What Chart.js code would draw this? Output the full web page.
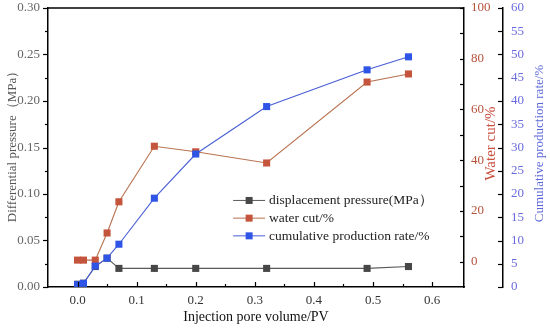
<!DOCTYPE html>
<html><head><meta charset="utf-8">
<script src="https://cdn.jsdelivr.net/npm/chart.js@4.4.0/dist/chart.umd.min.js"></script>
<style>html,body{margin:0;padding:0;background:#fff}</style>
</head><body>
<canvas id="c" width="550" height="330" style="width:550px;height:330px;display:block"></canvas>
<script>
const injectionPV = [0, 0.01, 0.03, 0.05, 0.07, 0.13, 0.20, 0.32, 0.49, 0.56];
const displacementPressure = [0.003, 0.004, 0.022, 0.031, 0.020, 0.020, 0.020, 0.020, 0.020, 0.022];
const waterCut = [0.6, 0.6, 0.6, 11.3, 23.6, 45.5, 43.3, 38.9, 70.8, 74.0];
const cumulativeRate = [0.5, 0.8, 4.5, 6.2, 9.2, 19.1, 28.6, 38.8, 46.7, 49.5];
const xTicks = [0, 0.1, 0.2, 0.3, 0.4, 0.5, 0.6];
const pressureTicks = [0, 0.05, 0.10, 0.15, 0.20, 0.25, 0.30];
const waterCutTicks = [0, 20, 40, 60, 80, 100];
const cumulativeTicks = [0, 5, 10, 15, 20, 25, 30, 35, 40, 45, 50, 55, 60];
const seriesNames = ['displacement pressure(MPa\uFF09', 'water cut/%', 'cumulative production rate/%'];
const axisTitles = {
  y: 'Differential pressure\uFF08MPa\uFF09',
  y2: 'Water cut/%',
  y3: 'Cumulative production rate/%',
  x: 'Injection pore volume/PV'
};

const SERIF = '"Liberation Serif", "Times New Roman", serif';
const colors = {
  black: { line: '#5a5a5a', point: '#474747' },
  red: { line: '#b8714f', point: '#c4553c' },
  blue: { line: '#4a5ed6', point: '#2f55e6' }
};

function pts(ys) { return injectionPV.map((x, i) => ({ x: x, y: ys[i] })); }
function fixTicks(arr) { return s => { s.ticks = arr.map(v => ({ value: v })); }; }
function fixW(w) { return s => { s.width = w; s.paddingTop = 0; s.paddingBottom = 0; }; }

const decoPlugin = {
  id: 'deco',
  afterDraw(chart) {
    const ctx = chart.ctx;
    const ca = chart.chartArea;
    const sx = chart.scales.x, sy = chart.scales.y, sy2 = chart.scales.y2, sy3 = chart.scales.y3;
    ctx.save();
    ctx.strokeStyle = '#000';
    ctx.lineWidth = 1.5;
    ctx.beginPath();
    ctx.moveTo(ca.left, ca.top); ctx.lineTo(ca.right, ca.top);
    ctx.stroke();
    ctx.lineWidth = 1.2;
    function tickV(scale, values, x, len) {
      values.forEach(v => {
        const y = Math.round(scale.getPixelForValue(v)) + 0.5;
        ctx.beginPath(); ctx.moveTo(x, y); ctx.lineTo(x + len, y); ctx.stroke();
      });
    }
    function tickH(scale, values, y, len) {
      values.forEach(v => {
        const x = Math.round(scale.getPixelForValue(v)) + 0.5;
        ctx.beginPath(); ctx.moveTo(x, y); ctx.lineTo(x, y + len); ctx.stroke();
      });
    }
    tickV(sy, pressureTicks, ca.left, -5);
    tickV(sy, [0.025, 0.075, 0.125, 0.175, 0.225, 0.275], ca.left, -3);
    tickH(sx, xTicks, ca.bottom, -5);
    tickH(sx, [0.05, 0.15, 0.25, 0.35, 0.45, 0.55], ca.bottom, -3);
    tickV(sy2, waterCutTicks, sy2.left, -4);
    tickV(sy2, [10, 30, 50, 70, 90], sy2.left, -4);
    tickV(sy3, cumulativeTicks, sy3.left, -5);

    function vTitle(text, x, y, color, size) {
      ctx.save();
      ctx.translate(x, y);
      ctx.rotate(-Math.PI / 2);
      ctx.fillStyle = color;
      ctx.font = size + 'px ' + SERIF;
      ctx.textAlign = 'center';
      ctx.textBaseline = 'middle';
      ctx.fillText(text, 0, 0);
      ctx.restore();
    }
    const midY = (ca.top + ca.bottom) / 2 - 4;
    vTitle(axisTitles.y, 13, midY, '#555555', 13);
    vTitle(axisTitles.y2, sy2.right - 12, midY, '#c9503f', 15);
    vTitle(axisTitles.y3, sy3.right - 10, midY, '#5b67d9', 13);

    const order = [0, 1, 2];
    const lx = ca.left + (ca.right - ca.left) * 0.445;
    let ly = ca.top + (ca.bottom - ca.top) * 0.688;
    ctx.font = '13.5px ' + SERIF;
    ctx.textBaseline = 'middle';
    ctx.textAlign = 'left';
    order.forEach(i => {
      const ds = chart.data.datasets[i];
      ctx.strokeStyle = ds.borderColor;
      ctx.lineWidth = 1;
      ctx.beginPath(); ctx.moveTo(lx, ly + 0.5); ctx.lineTo(lx + 32, ly + 0.5); ctx.stroke();
      ctx.fillStyle = ds.pointBackgroundColor;
      ctx.fillRect(lx + 12.5, ly - 3, 7, 7);
      ctx.fillStyle = '#222';
      ctx.fillText(ds.label, lx + 36, ly + 1);
      ly += 17.7;
    });
    ctx.restore();
  }
};

new Chart(document.getElementById('c'), {
  type: 'line',
  data: {
    datasets: [
      { label: seriesNames[0], data: pts(displacementPressure), yAxisID: 'y', order: 3,
        borderColor: colors.black.line, pointBackgroundColor: colors.black.point },
      { label: seriesNames[1], data: pts(waterCut), yAxisID: 'y2', order: 2,
        borderColor: colors.red.line, pointBackgroundColor: colors.red.point },
      { label: seriesNames[2], data: pts(cumulativeRate), yAxisID: 'y3', order: 1,
        borderColor: colors.blue.line, pointBackgroundColor: colors.blue.point }
    ]
  },
  options: {
    responsive: false,
    animation: false,
    devicePixelRatio: 1,
    layout: { padding: { top: 8, left: 0, right: 0, bottom: 0 } },
    elements: {
      line: { borderWidth: 1.1, tension: 0, fill: false },
      point: { pointStyle: 'rect', radius: 5, borderWidth: 0, hoverRadius: 5 }
    },
    plugins: { legend: { display: false }, tooltip: { enabled: false } },
    scales: {
      x: {
        type: 'linear', min: -0.05, max: 0.654,
        afterBuildTicks: fixTicks(xTicks),
        afterFit: s => { s.height = 43; },
        grid: { display: false, drawTicks: false },
        border: { display: true, color: '#000', width: 1.5 },
        ticks: { callback: v => v.toFixed(1), color: '#333', padding: 6, maxRotation: 0, autoSkip: false,
                 font: { family: SERIF, size: 13 } },
        title: { display: true, text: axisTitles.x, color: '#111', padding: { top: 0, bottom: 4 },
                 font: { family: SERIF, size: 14 } }
      },
      y: {
        type: 'linear', position: 'left', min: 0, max: 0.3,
        afterBuildTicks: fixTicks(pressureTicks),
        afterFit: fixW(48),
        grid: { display: false, drawTicks: false },
        border: { display: true, color: '#000', width: 1.5 },
        ticks: { callback: v => v.toFixed(2), color: '#666', padding: 8, autoSkip: false,
                 font: { family: SERIF, size: 13 } }
      },
      y2: {
        type: 'linear', position: 'right', min: -10, max: 100,
        afterBuildTicks: fixTicks(waterCutTicks),
        afterFit: fixW(39),
        grid: { display: false, drawTicks: false },
        border: { display: true, color: '#000', width: 1.5 },
        ticks: { callback: v => String(v), color: '#b5523b', padding: 7, autoSkip: false,
                 font: { family: SERIF, size: 13 } }
      },
      y3: {
        type: 'linear', position: 'right', min: 0, max: 60,
        afterBuildTicks: fixTicks(cumulativeTicks),
        afterFit: fixW(47),
        grid: { display: false, drawTicks: false },
        border: { display: true, color: '#000', width: 1.5 },
        ticks: { callback: v => String(v), color: '#6b6be0', padding: 8, autoSkip: false,
                 font: { family: SERIF, size: 13 } }
      }
    }
  },
  plugins: [decoPlugin]
});
</script>
</body></html>
